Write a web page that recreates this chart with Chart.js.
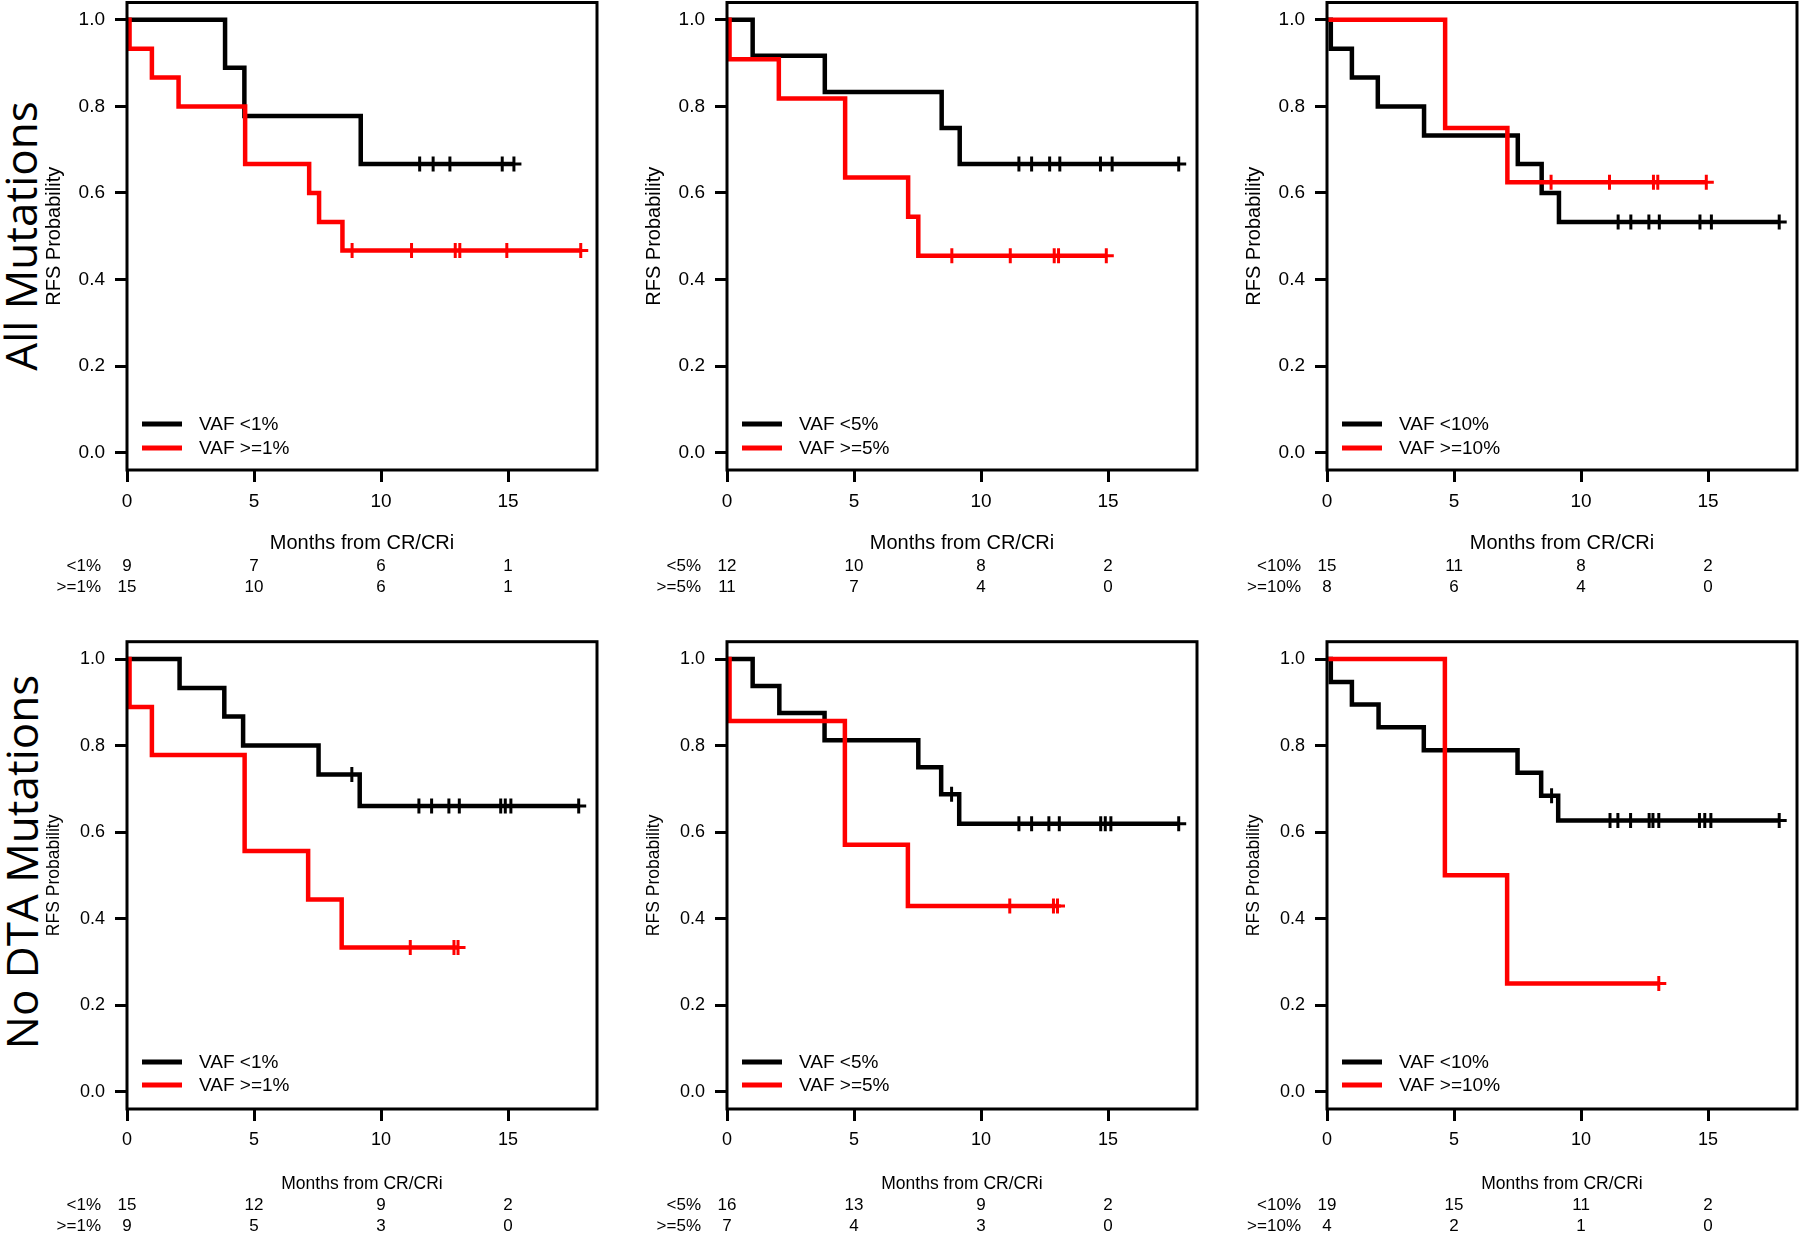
<!DOCTYPE html>
<html>
<head>
<meta charset="utf-8">
<script src="https://cdn.jsdelivr.net/npm/chart.js@4.4.1/dist/chart.umd.min.js"></script>
<style>
  body { margin: 0; background: #fff; }
  #wrap { position: relative; width: 1800px; height: 1234px; overflow: hidden; }
  canvas { position: absolute; }
  .row-label {
    position: absolute;
    font-family: "Open Sans", sans-serif;
    font-size: 44px;
    color: #000;
    white-space: nowrap;
    transform: translate(-50%, -50%) rotate(-90deg);
  }
</style>
</head>
<body>
<div id="wrap">
  <div class="row-label" style="left:20px; top:236px">All Mutations</div>
  <div class="row-label" style="left:21px; top:862px">No DTA Mutations</div>
  <canvas id="c0" width="600" height="600"></canvas>
  <canvas id="c1" width="600" height="600"></canvas>
  <canvas id="c2" width="600" height="600"></canvas>
  <canvas id="c3" width="600" height="614"></canvas>
  <canvas id="c4" width="600" height="614"></canvas>
  <canvas id="c5" width="600" height="614"></canvas>
</div>
<script>
// Axis ticks
const xTicks = [0, 5, 10, 15];
const yTicks = [0, 0.2, 0.4, 0.6, 0.8, 1.0];

// All mutations, VAF cut 1%  (event times / survival after event / censor times)
const a1LoTimes = [3.86, 4.62, 9.2];
const a1LoSurv = [0.889, 0.778, 0.667];
const a1LoCens = [11.52, 12.05, 12.71, 14.77, 15.23];
const a1HiTimes = [0.1, 0.98, 2.03, 4.65, 7.17, 7.56, 8.48];
const a1HiSurv = [0.933, 0.867, 0.8, 0.667, 0.6, 0.533, 0.467];
const a1HiCens = [8.86, 11.2, 12.92, 13.1, 14.95, 17.86];
const a1LoRisk = [9, 7, 6, 1];
const a1HiRisk = [15, 10, 6, 1];

// All mutations, VAF cut 5%
const a5LoTimes = [1.01, 3.85, 8.45, 9.16];
const a5LoSurv = [0.917, 0.833, 0.75, 0.667];
const a5LoCens = [11.49, 11.99, 12.7, 13.1, 14.7, 15.16, 17.78];
const a5HiTimes = [0.1, 2.04, 4.65, 7.13, 7.53];
const a5HiSurv = [0.909, 0.818, 0.636, 0.545, 0.455];
const a5HiCens = [8.85, 11.15, 12.88, 13.05, 14.93];
const a5LoRisk = [12, 10, 8, 2];
const a5HiRisk = [11, 7, 4, 0];

// All mutations, VAF cut 10%
const a10LoTimes = [0.15, 0.98, 2.0, 3.82, 7.51, 8.45, 9.13];
const a10LoSurv = [0.933, 0.867, 0.8, 0.733, 0.667, 0.6, 0.533];
const a10LoCens = [11.46, 11.96, 12.67, 13.08, 14.68, 15.13, 17.8];
const a10HiTimes = [4.65, 7.1];
const a10HiSurv = [0.75, 0.625];
const a10HiCens = [8.82, 11.12, 12.85, 13.02, 14.93];
const a10LoRisk = [15, 11, 8, 2];
const a10HiRisk = [8, 6, 4, 0];

// No DTA mutations, VAF cut 1%
const n1LoTimes = [2.07, 3.83, 4.57, 7.54, 9.16];
const n1LoSurv = [0.933, 0.867, 0.8, 0.733, 0.66];
const n1LoCens = [8.85, 11.49, 11.99, 12.67, 13.08, 14.71, 14.89, 15.11, 17.78];
const n1HiTimes = [0.1, 0.98, 4.63, 7.13, 8.45];
const n1HiSurv = [0.889, 0.778, 0.556, 0.444, 0.333];
const n1HiCens = [11.15, 12.87, 13.03];
const n1LoRisk = [15, 12, 9, 2];
const n1HiRisk = [9, 5, 3, 0];

// No DTA mutations, VAF cut 5%
const n5LoTimes = [1.01, 2.06, 3.84, 7.53, 8.43, 9.14];
const n5LoSurv = [0.9375, 0.875, 0.8125, 0.75, 0.6875, 0.619];
const n5LoCens = [8.84, 11.49, 11.99, 12.67, 13.08, 14.71, 14.89, 15.11, 17.78];
const n5HiTimes = [0.1, 4.64, 7.12];
const n5HiSurv = [0.857, 0.571, 0.429];
const n5HiCens = [11.13, 12.85, 13.01];
const n5LoRisk = [16, 13, 9, 2];
const n5HiRisk = [7, 4, 3, 0];

// No DTA mutations, VAF cut 10%
const n10LoTimes = [0.15, 0.98, 2.03, 3.81, 7.5, 8.43, 9.1];
const n10LoSurv = [0.947, 0.895, 0.842, 0.789, 0.737, 0.684, 0.627];
const n10LoCens = [8.84, 11.14, 11.45, 11.95, 12.68, 12.83, 13.06, 14.66, 14.87, 15.11, 17.8];
const n10HiTimes = [4.64, 7.09];
const n10HiSurv = [0.5, 0.25];
const n10HiCens = [13.06];
const n10LoRisk = [19, 15, 11, 2];
const n10HiRisk = [4, 2, 1, 0];

const panels = [
  { cut: '1%',  lo: [a1LoTimes, a1LoSurv, a1LoCens, a1LoRisk],     hi: [a1HiTimes, a1HiSurv, a1HiCens, a1HiRisk] },
  { cut: '5%',  lo: [a5LoTimes, a5LoSurv, a5LoCens, a5LoRisk],     hi: [a5HiTimes, a5HiSurv, a5HiCens, a5HiRisk] },
  { cut: '10%', lo: [a10LoTimes, a10LoSurv, a10LoCens, a10LoRisk], hi: [a10HiTimes, a10HiSurv, a10HiCens, a10HiRisk] },
  { cut: '1%',  lo: [n1LoTimes, n1LoSurv, n1LoCens, n1LoRisk],     hi: [n1HiTimes, n1HiSurv, n1HiCens, n1HiRisk] },
  { cut: '5%',  lo: [n5LoTimes, n5LoSurv, n5LoCens, n5LoRisk],     hi: [n5HiTimes, n5HiSurv, n5HiCens, n5HiRisk] },
  { cut: '10%', lo: [n10LoTimes, n10LoSurv, n10LoCens, n10LoRisk], hi: [n10HiTimes, n10HiSurv, n10HiCens, n10HiRisk] }
];

// Row geometry (top row / bottom row), canvas-relative pixels
const rows = [
  { top: 0,   tickFont: 19, titleFont: 20,   padTop: 2.5,  padBottom: 45,   xAxisH: 85,   riskY: [566, 587],   legY: [-46, -22] },
  { top: 620, tickFont: 18, titleFont: 17.5, padTop: 21.7, padBottom: 39.5, xAxisH: 85.5, riskY: [585, 606.5], legY: [-47, -24] }
];

Chart.defaults.font.family = '"Liberation Sans", Arial, sans-serif';
Chart.defaults.color = '#000';

function stepPoints(times, surv, cens) {
  const pts = [{ x: 0, y: 1 }];
  times.forEach((t, i) => pts.push({ x: t, y: surv[i] }));
  const end = Math.max(...cens, ...times);
  pts.push({ x: end, y: surv[surv.length - 1] });
  return pts;
}

function survAt(times, surv, t) {
  let s = 1;
  times.forEach((tt, i) => { if (tt <= t) s = surv[i]; });
  return s;
}

// Box, legend inside plot and number-at-risk table
const kmExtras = {
  id: 'kmExtras',
  afterDatasetsDraw(chart, args, opts) {
    const { ctx, chartArea: a } = chart;
    ctx.save();
    ctx.strokeStyle = '#000';
    ctx.lineWidth = 3;
    ctx.strokeRect(a.left, a.top, a.right - a.left, a.bottom - a.top);

    const curves = chart.data.datasets.filter(d => !d.censor);
    curves.forEach((d, i) => {
      const y = a.bottom + opts.legY[i];
      ctx.strokeStyle = d.borderColor;
      ctx.lineWidth = 5;
      ctx.beginPath();
      ctx.moveTo(a.left + 15, y);
      ctx.lineTo(a.left + 55, y);
      ctx.stroke();
      ctx.fillStyle = '#000';
      ctx.font = '19px "Liberation Sans", Arial, sans-serif';
      ctx.textBaseline = 'middle';
      ctx.textAlign = 'left';
      ctx.fillText(d.label, a.left + 72, y + 1);
    });
    ctx.restore();
  },
  afterDraw(chart, args, opts) {
    const { ctx } = chart;
    const xs = chart.scales.x;
    ctx.save();
    ctx.fillStyle = '#000';
    ctx.font = '17px "Liberation Sans", Arial, sans-serif';
    ctx.textBaseline = 'middle';
    opts.table.forEach((row, i) => {
      const y = opts.rowY[i];
      ctx.textAlign = 'right';
      ctx.fillText(row.label, 101, y);
      ctx.textAlign = 'center';
      row.counts.forEach((n, j) => ctx.fillText(String(n), xs.getPixelForValue(xTicks[j]), y));
    });
    ctx.restore();
  }
};

function makePanel(idx) {
  const p = panels[idx];
  const r = rows[Math.floor(idx / 3)];
  const canvas = document.getElementById('c' + idx);
  canvas.style.left = (idx % 3) * 600 + 'px';
  canvas.style.top = r.top + 'px';

  const groups = [
    { g: p.lo, color: '#000000', label: 'VAF <' + p.cut, risk: '<' + p.cut, order: 4 },
    { g: p.hi, color: '#ff0000', label: 'VAF >=' + p.cut, risk: '>=' + p.cut, order: 2 }
  ];
  const datasets = [];
  groups.forEach(s => {
    const [times, surv, cens] = s.g;
    datasets.push({
      label: s.label,
      data: stepPoints(times, surv, cens),
      stepped: true,
      borderColor: s.color,
      borderWidth: 4.5,
      pointRadius: 0,
      fill: false,
      order: s.order
    });
    datasets.push({
      label: s.label + ' censored',
      censor: true,
      data: cens.map(t => ({ x: t, y: survAt(times, surv, t) })),
      showLine: false,
      pointStyle: 'cross',
      pointRadius: 7.5,
      pointBorderWidth: 3,
      pointBorderColor: s.color,
      borderColor: s.color,
      order: s.order - 1
    });
  });

  new Chart(canvas, {
    type: 'line',
    data: { datasets },
    options: {
      responsive: false,
      animation: false,
      layout: { autoPadding: false, padding: { left: 0, right: 3, top: r.padTop, bottom: r.padBottom } },
      plugins: {
        legend: { display: false },
        tooltip: { enabled: false },
        kmExtras: {
          table: groups.map(s => ({ label: s.risk, counts: s.g[3] })),
          rowY: r.riskY,
          legY: r.legY
        }
      },
      scales: {
        x: {
          type: 'linear',
          min: 0,
          max: 18.5,
          afterBuildTicks: ax => { ax.ticks = xTicks.map(v => ({ value: v })); },
          afterFit: ax => { ax.height = r.xAxisH; ax.paddingLeft = 0; ax.paddingRight = 0; },
          border: { display: false },
          grid: { drawOnChartArea: false, drawTicks: true, tickLength: 12, tickWidth: 3, tickColor: '#000' },
          ticks: { autoSkip: false, maxRotation: 0, padding: 8, font: { size: r.tickFont }, color: '#000',
                   callback: v => String(v) },
          title: { display: true, text: 'Months from CR/CRi', font: { size: r.titleFont },
                   padding: { top: 0, bottom: 0 }, color: '#000' }
        },
        y: {
          type: 'linear',
          min: -0.04,
          max: 1.04,
          afterBuildTicks: ax => { ax.ticks = yTicks.map(v => ({ value: v })); },
          afterFit: ax => { ax.width = 127; ax.paddingTop = 0; ax.paddingBottom = 0; },
          border: { display: false },
          grid: { drawOnChartArea: false, drawTicks: true, tickLength: 12, tickWidth: 3, tickColor: '#000' },
          ticks: { autoSkip: false, padding: 10, font: { size: r.tickFont }, color: '#000',
                   callback: v => Number(v).toFixed(1) },
          title: { display: true, text: 'RFS Probability', font: { size: r.titleFont },
                   padding: { top: 54 - r.titleFont * 0.6, bottom: 0 }, color: '#000' }
        }
      }
    },
    plugins: [kmExtras]
  });
}

for (let i = 0; i < 6; i++) makePanel(i);
</script>
</body>
</html>
